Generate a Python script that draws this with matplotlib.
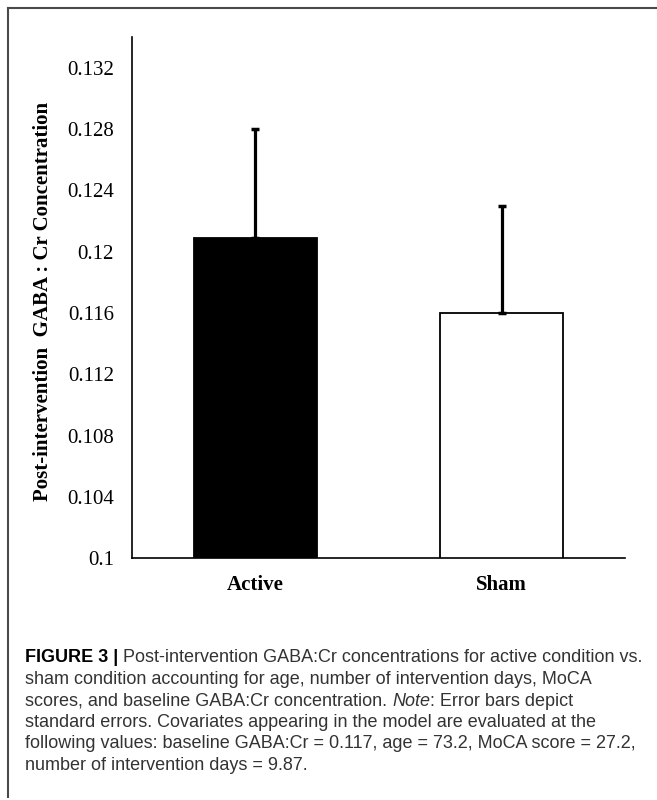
import matplotlib
matplotlib.use("Agg")
import matplotlib.pyplot as plt
from matplotlib.lines import Line2D

# ---- data ----
categories = ["Active", "Sham"]
means = [0.1209, 0.1160]
std_errors = [0.0071, 0.0070]
bar_fill = ["black", "white"]
y_ticks = [0.100, 0.104, 0.108, 0.112, 0.116, 0.120, 0.124, 0.128, 0.132]
y_tick_labels = ["0.1", "0.104", "0.108", "0.112", "0.116", "0.12", "0.124", "0.128", "0.132"]
y_label = "Post-intervention  GABA : Cr Concentration"

W, H = 657, 800
fig = plt.figure(figsize=(W / 100, H / 100), dpi=100)
fig.patch.set_facecolor("white")

def fx(px):
    return px / W

def fy(py):
    return 1 - py / H

ax = fig.add_axes([fx(132), fy(558.3), (625 - 132) / W, (558.3 - 37) / H])
x = list(range(len(categories)))
ax.bar(x, means, width=0.5, color=bar_fill, edgecolor="black", linewidth=1.3, zorder=2)
ax.errorbar(x, means, yerr=[[0] * len(means), std_errors], fmt="none", ecolor="black",
            elinewidth=2.3, capsize=3, capthick=2.5, zorder=3)
ax.set_xlim(-0.5, 1.5)
ax.set_ylim(0.1, 0.134)
ax.set_yticks(y_ticks)
ax.set_yticklabels(y_tick_labels, family="Liberation Serif", fontsize=15)
ax.set_xticks(x)
ax.set_xticklabels(categories, family="Liberation Serif", fontsize=15, fontweight="bold")
ax.tick_params(axis="y", length=0, pad=13)
ax.tick_params(axis="x", length=0, pad=12)
for s in ["top", "right"]:
    ax.spines[s].set_visible(False)
for s in ["left", "bottom"]:
    ax.spines[s].set_linewidth(1.2)
    ax.spines[s].set_color("black")

fig.text(fx(43), fy(301), y_label, rotation=90, ha="center", va="center",
         family="Liberation Serif", fontsize=15, fontweight="bold")

# ---- frame ----
fig.add_artist(Line2D([fx(8), fx(657)], [fy(8), fy(8)], color="#4a4a4a", lw=1.5,
                      transform=fig.transFigure))
fig.add_artist(Line2D([fx(8), fx(8)], [fy(8), fy(797)], color="#4a4a4a", lw=1.5,
                      transform=fig.transFigure))

# ---- caption ----
caption_lines = [
    [("FIGURE 3 |", "bold", "normal"), (" Post-intervention GABA:Cr concentrations for active condition vs.", "normal", "normal")],
    [("sham condition accounting for age, number of intervention days, MoCA", "normal", "normal")],
    [("scores, and baseline GABA:Cr concentration. ", "normal", "normal"), ("Note", "normal", "italic"), (": Error bars depict", "normal", "normal")],
    [("standard errors. Covariates appearing in the model are evaluated at the", "normal", "normal")],
    [("following values: baseline GABA:Cr = 0.117, age = 73.2, MoCA score = 27.2,", "normal", "normal")],
    [("number of intervention days = 9.87.", "normal", "normal")],
]
cap_font = "Liberation Sans"
renderer = fig.canvas.get_renderer()

def draw_line(pieces, x0, yc, size, draw=True):
    xpos = x0
    arts = []
    for txt, wt, st in pieces:
        t = fig.text(fx(xpos), fy(yc), txt, ha="left", va="center_baseline",
                     family=cap_font, fontsize=size, fontweight=wt, fontstyle=st,
                     color="#000000" if wt == "bold" else "#333333")
        bb = t.get_window_extent(renderer=renderer)
        xpos += bb.width
        arts.append(t)
    if not draw:
        for a in arts:
            a.remove()
    return xpos - x0

base = 10
w0 = draw_line(caption_lines[0], 25, 652, base, draw=False)
cap_size = base * 620 / w0
line_y = [656, 677.5, 699, 720.5, 742, 763.5]
for pieces, yc in zip(caption_lines, line_y):
    draw_line(pieces, 25, yc, cap_size)

fig.savefig("out.png", dpi=100, facecolor="white")
